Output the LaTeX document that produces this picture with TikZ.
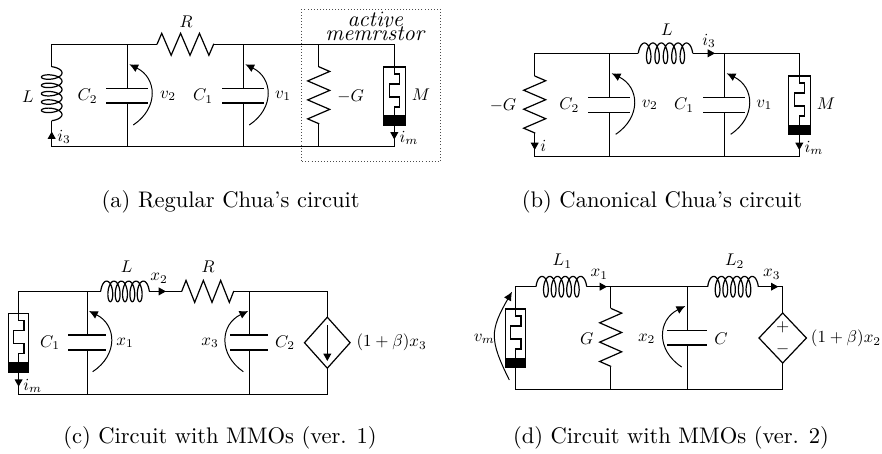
\documentclass[tikz,border=0pt]{standalone}
\usetikzlibrary{arrows.meta,decorations.pathmorphing,calc}
\tikzset{
  x=0.4545pt,y=-0.4545pt,
  wire/.style={line width=0.55pt},
  plate/.style={line width=0.6pt},
  zz/.style={line width=0.55pt,decorate,decoration={zigzag,segment length={#1*0.4545pt/3.02},amplitude=5pt}},
  tip/.style={line width=0.55pt,-{Triangle[length=3.3pt,width=3.5pt]}},
  volt/.style={line width=0.45pt,-{Latex[length=4pt,width=3.8pt]},looseness=1.3},
  lab/.style={inner sep=0pt,transform shape,scale=0.77},
  bigtxt/.style={inner sep=0pt,align=center,font=\fontsize{10}{6.6}\selectfont},
  captxt/.style={inner sep=0pt,font=\fontsize{10.25}{12}\selectfont}
}
% plates: name, x, y-upper, y-lower, half width
\newcommand{\plates}[5]{%
  \coordinate (#1t) at (#2,#3);
  \coordinate (#1b) at (#2,#4);
  \draw[plate] (#2-#5,#3) -- (#2+#5,#3);
  \draw[plate] (#2-#5,#4) -- (#2+#5,#4);
}
% memristor: name, x, y-top, bar-top, y-bottom, half width
\newcommand{\memr}[6]{%
  \coordinate (#1t) at (#2,#3);
  \coordinate (#1b) at (#2,#5);
  \fill (#2-#6,#4) rectangle (#2+#6,#5);
  \draw[wire] (#2-#6,#3) rectangle (#2+#6,#5);
  \draw[wire] (#2,#3) -- (#2,#3+7) -- (#2+5.5,#3+7) -- (#2+5.5,#3+17) -- (#2-5,#3+17) -- (#2-5,#3+30) -- (#2+5.5,#3+30) -- (#2+5.5,#3+40) -- (#2,#3+40) -- (#2,#4);
}
% coil: start coordinate, length in picture units, rotation
\newcommand{\coilpath}[3]{%
  \begin{scope}[shift={(#1)},rotate=#3]
    \draw[wire] plot[smooth,domain=0:1980,samples=200,variable=\t]
      ({(#2-8.2)*(\t/1980)+4.1-4.1*cos(\t)},{-10.3*sin(\t)});
  \end{scope}
}
\begin{document}
\begin{tikzpicture}
\path[use as bounding box] (0,0) rectangle (882,453);
% ---------- (a)
\coordinate (aT1) at (51.7,44.3); \coordinate (aT2) at (127.3,44.3); \coordinate (aT3) at (243.3,44.3);
\coordinate (aT4) at (318.7,44.3); \coordinate (aT5) at (394.3,44.3);
\coordinate (aB1) at (51.7,146.3); \coordinate (aB2) at (127.3,146.3); \coordinate (aB3) at (243.3,146.3);
\coordinate (aB4) at (318.7,146.3); \coordinate (aB5) at (394.3,146.3);
\coordinate (aRl) at (157,44.3); \coordinate (aRr) at (214,44.3);
\coordinate (aLt) at (51.7,66.7); \coordinate (aLb) at (51.7,120.7);
\coordinate (aGt) at (318.7,66.7); \coordinate (aGb) at (318.7,124);
\plates{aC2}{127.3}{88.7}{103}{21}
\plates{aC1}{243.3}{88.7}{103}{21}
\memr{aM}{394.3}{67}{115}{125}{11}
\draw[wire] (aLt) -- (aT1) -- (aRl); \draw[wire] (aRr) -- (aT5) -- (aMt);
\draw[wire] (aLb) -- (aB1) -- (aB5) -- (aMb);
\draw[zz=57] (aRl) -- (aRr);
\coilpath{aLt}{54}{-90}
\draw[zz=57.3] (aGt) -- (aGb);
\draw[wire] (aT4) -- (aGt) (aGb) -- (aB4);
\draw[wire] (aT2) -- (aC2t) (aC2b) -- (aB2);
\draw[wire] (aT3) -- (aC1t) (aC1b) -- (aB3);
\coordinate (aI3s) at (51.7,140); \coordinate (aI3e) at (51.7,131.5);
\draw[tip] (aI3s) -- (aI3e);
\coordinate (aIms) at (394.3,130); \coordinate (aIme) at (394.3,139.5);
\draw[tip] (aIms) -- (aIme);
\coordinate (aV2s) at (133.3,125); \coordinate (aV2e) at (129.3,64.3);
\coordinate (aV1s) at (249.3,125); \coordinate (aV1e) at (245.3,64.3);
\draw[volt] (aV2s) to[bend right=60] (aV2e);
\draw[volt] (aV1s) to[bend right=60] (aV1e);
\draw[densely dotted,line width=0.4pt,black!70] (301,9) rectangle (440,161.7);
\node[lab] (aLL) at (28,97) {$L$};
\node[lab] (aLC2) at (87.5,96) {$C_2$};
\node[lab] (aLv2) at (168,96) {$v_2$};
\node[lab] (aLC1) at (203,96) {$C_1$};
\node[lab] (aLv1) at (283,96) {$v_1$};
\node[lab] (aLG) at (350.7,96) {$-G$};
\node[lab] (aLM) at (421,95) {$M$};
\node[lab] (aLR) at (186,22) {$R$};
\node[bigtxt] (aLa) at (376,33.7) {\smash{$\mathit{active}$}\\\smash{$\mathit{memristor}$}};
\node[lab] (aLi3) at (64,137) {$i_3$};
\node[lab] (aLim) at (409,138) {$i_m$};
\node[captxt] (aCap) at (230.7,202) {(a) Regular Chua's circuit};
% ---------- (b)
\coordinate (bT1) at (534.7,53.3); \coordinate (bT2) at (609.3,53.3); \coordinate (bT3) at (724.3,53.3); \coordinate (bT4) at (799.3,53.3);
\coordinate (bB1) at (534.7,156.3); \coordinate (bB2) at (609.3,156.3); \coordinate (bB3) at (724.3,156.3); \coordinate (bB4) at (799.3,156.3);
\coordinate (bLl) at (638.3,53.3); \coordinate (bLr) at (692.7,53.3);
\coordinate (bGt) at (534.7,76); \coordinate (bGb) at (534.7,133.3);
\plates{bC2}{609.3}{97.7}{112.3}{21}
\plates{bC1}{724.3}{97.7}{112.3}{21}
\memr{bM}{799.3}{76}{124.7}{134.7}{11}
\draw[wire] (bGt) -- (bT1) -- (bLl); \draw[wire] (bLr) -- (bT4) -- (bMt);
\draw[wire] (bGb) -- (bB1) -- (bB4) -- (bMb);
\coilpath{bLl}{54.4}{0}
\draw[zz=57.3] (bGt) -- (bGb);
\draw[wire] (bT2) -- (bC2t) (bC2b) -- (bB2);
\draw[wire] (bT3) -- (bC1t) (bC1b) -- (bB3);
\coordinate (bI3s) at (704,53.3); \coordinate (bI3e) at (715,53.3);
\draw[tip] (bI3s) -- (bI3e);
\coordinate (bIs) at (534.7,140); \coordinate (bIe) at (534.7,150);
\draw[tip] (bIs) -- (bIe);
\coordinate (bIms) at (799.3,140); \coordinate (bIme) at (799.3,150);
\draw[tip] (bIms) -- (bIme);
\coordinate (bV2s) at (615.7,134.3); \coordinate (bV2e) at (611.7,73.3);
\coordinate (bV1s) at (730.7,134.3); \coordinate (bV1e) at (726.7,73.3);
\draw[volt] (bV2s) to[bend right=60] (bV2e);
\draw[volt] (bV1s) to[bend right=60] (bV1e);
\node[lab] (bLL) at (667,30) {$L$};
\node[lab] (bLi3) at (709,40.7) {$i_3$};
\node[lab] (bLG) at (503,105) {$-G$};
\node[lab] (bLC2) at (569.3,105) {$C_2$};
\node[lab] (bLv2) at (649.7,105) {$v_2$};
\node[lab] (bLC1) at (684,105) {$C_1$};
\node[lab] (bLv1) at (764.3,105) {$v_1$};
\node[lab] (bLM) at (826,104) {$M$};
\node[lab] (bLi) at (543.3,146) {$i$};
\node[lab] (bLim) at (814,148) {$i_m$};
\node[captxt] (bCap) at (662,202) {(b) Canonical Chua's circuit};
% ---------- (c)
\coordinate (cT1) at (18.6,291.4); \coordinate (cT2) at (87.3,291.4); \coordinate (cT3) at (249.4,291.4); \coordinate (cT4) at (327.3,291.4);
\coordinate (cB1) at (18.6,394.3); \coordinate (cB2) at (87.3,394.3); \coordinate (cB3) at (249.4,394.3); \coordinate (cB4) at (327.3,394.3);
\coordinate (cLl) at (100.7,291.4); \coordinate (cLr) at (149.3,291.4);
\coordinate (cRl) at (181.7,291.4); \coordinate (cRr) at (234,291.4);
\coordinate (cDt) at (327.3,317.2); \coordinate (cDb) at (327.3,368.2);
\coordinate (cDl) at (304.5,342.7); \coordinate (cDr) at (350.1,342.7);
\coordinate (cAs) at (327.3,325); \coordinate (cAe) at (327.3,361);
\plates{cC1}{87.3}{335}{350}{19}
\plates{cC2}{249.4}{335}{350}{19}
\memr{cM}{18.6}{313.3}{362}{372}{10}
\draw[wire] (cMt) -- (cT1) -- (cLl); \draw[wire] (cLr) -- (cRl); \draw[wire] (cRr) -- (cT4) -- (cDt);
\draw[wire] (cMb) -- (cB1) -- (cB4) -- (cDb);
\coilpath{cLl}{48.6}{0}
\draw[zz=52.3] (cRl) -- (cRr);
\draw[wire] (cT2) -- (cC1t) (cC1b) -- (cB2);
\draw[wire] (cT3) -- (cC2t) (cC2b) -- (cB3);
\draw[wire] (cDt) -- (cDr) -- (cDb) -- (cDl) -- cycle;
\draw[tip] (cAs) -- (cAe);
\coordinate (cX2s) at (150,291.4); \coordinate (cX2e) at (166,291.4);
\draw[tip] (cX2s) -- (cX2e);
\coordinate (cIms) at (18.6,377); \coordinate (cIme) at (18.6,386.7);
\draw[tip] (cIms) -- (cIme);
\coordinate (cV1s) at (92.7,371.7); \coordinate (cV1e) at (89,311);
\coordinate (cV3s) at (243.3,371.7); \coordinate (cV3e) at (248.3,311);
\draw[volt] (cV1s) to[bend right=60] (cV1e);
\draw[volt] (cV3s) to[bend left=60] (cV3e);
\node[lab] (cLL) at (126.7,266.7) {$L$};
\node[lab] (cLx2) at (159,278.3) {$x_2$};
\node[lab] (cLR) at (208,266.7) {$R$};
\node[lab] (cLC1) at (50,342.7) {$C_1$};
\node[lab] (cLx1) at (125,342.7) {$x_1$};
\node[lab] (cLx3) at (210,342.7) {$x_3$};
\node[lab] (cLC2) at (285,342.7) {$C_2$};
\node[lab] (cLb) at (391.7,342.7) {$(1+\beta)x_3$};
\node[lab] (cLim) at (32.7,386) {$i_m$};
\node[captxt] (cCap) at (220,438) {(c) Circuit with MMOs (ver. 1)};
% ---------- (d)
\coordinate (dT1) at (515.4,286.7); \coordinate (dT2) at (610.7,286.7); \coordinate (dT3) at (687.3,286.7); \coordinate (dT4) at (782.7,286.7);
\coordinate (dB1) at (515.4,389.4); \coordinate (dB2) at (610.7,389.4); \coordinate (dB3) at (687.3,389.4); \coordinate (dB4) at (782.7,389.4);
\coordinate (dL1l) at (536,286.7); \coordinate (dL1r) at (586.7,286.7);
\coordinate (dL2l) at (707.7,286.7); \coordinate (dL2r) at (758.3,286.7);
\coordinate (dGt) at (610.7,308.3); \coordinate (dGb) at (610.7,366.7);
\coordinate (dDt) at (782.7,313); \coordinate (dDb) at (782.7,363);
\coordinate (dDl) at (759,338); \coordinate (dDr) at (806.4,338);
\plates{dC}{687.3}{330.7}{345}{20}
\memr{dM}{515.4}{309}{357.7}{367}{10}
\draw[wire] (dMt) -- (dT1) -- (dL1l); \draw[wire] (dL1r) -- (dL2l); \draw[wire] (dL2r) -- (dT4) -- (dDt);
\draw[wire] (dMb) -- (dB1) -- (dB4) -- (dDb);
\coilpath{dL1l}{50.7}{0}
\coilpath{dL2l}{50.6}{0}
\draw[zz=58.4] (dGt) -- (dGb);
\draw[wire] (dT2) -- (dGt) (dGb) -- (dB2);
\draw[wire] (dT3) -- (dCt) (dCb) -- (dB3);
\draw[wire] (dDt) -- (dDr) -- (dDb) -- (dDl) -- cycle;
\coordinate (dX1s) at (590,286.7); \coordinate (dX1e) at (607,286.7);
\draw[tip] (dX1s) -- (dX1e);
\coordinate (dX3s) at (762,286.7); \coordinate (dX3e) at (778.3,286.7);
\draw[tip] (dX3s) -- (dX3e);
\coordinate (dVms) at (509.3,380); \coordinate (dVme) at (512,291.7);
\coordinate (dV2s) at (681.7,367); \coordinate (dV2e) at (685.3,306);
\draw[volt] (dVms) to[bend left=28] (dVme);
\draw[volt] (dV2s) to[bend left=60] (dV2e);
\node[lab] (dLL1) at (562.3,261) {$L_1$};
\node[lab] (dLx1) at (599.3,274.3) {$x_1$};
\node[lab] (dLL2) at (734.7,261) {$L_2$};
\node[lab] (dLx3) at (771.7,274.3) {$x_3$};
\node[lab] (dLvm) at (484.3,338.7) {$v_m$};
\node[lab] (dLG) at (586.7,338.7) {$G$};
\node[lab] (dLx2) at (646.7,338.7) {$x_2$};
\node[lab] (dLC) at (721,338.7) {$C$};
\node[lab] (dLb) at (846,338.7) {$(1+\beta)x_2$};
\node[lab] (dLp) at (782.7,327) {$+$};
\node[lab] (dLn) at (782.7,349.5) {$-$};
\node[captxt] (dCap) at (671,438) {(d) Circuit with MMOs (ver. 2)};
\end{tikzpicture}
\end{document}
